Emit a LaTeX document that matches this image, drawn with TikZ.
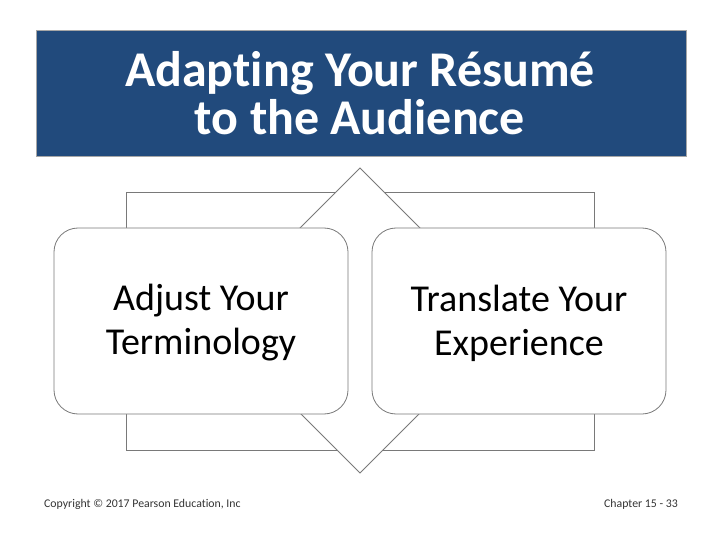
\documentclass[tikz,border=0pt]{standalone}
\usepackage{fontspec}
\setmainfont{Carlito}[Ligatures=NoCommon]
\begin{document}
\begin{tikzpicture}[x=1pt,y=-1pt,
  outl/.style={draw=gray!95!black, line width=0.8pt, fill=white},
  rbox/.style={outl, rounded corners=24pt},
  boxtext/.style={font=\fontsize{38}{44}\selectfont, align=center, text=black},
  foot/.style={font=\fontsize{11.8}{13}\selectfont, text=black!80, inner sep=0pt}]
\definecolor{titleblue}{HTML}{214A7C}
\useasboundingbox (0,0) rectangle (720,540);
% title
\node[draw=gray!70, line width=0.6pt, fill=titleblue, minimum width=650pt, minimum height=126pt,
  anchor=north west, inner sep=0pt] (title) at (36,30) {};
\node[font=\fontsize{50}{48}\selectfont\bfseries, text=white, align=center] (titletext) at (360,93)
  {Adapting Your Résumé\\to the Audience};
% background rectangle and diamond
\draw[outl] (126,192) rectangle (594,450);
\coordinate (dtop) at (360,168);
\coordinate (dbot) at (360,473);
\draw[outl] (dtop) -- (512.5,320.5) -- (dbot) -- (207.5,320.5) -- cycle;
% rounded boxes
\draw[rbox] (54,228) rectangle (348,414);
\draw[rbox] (372,228) rectangle (666,414);
\node[boxtext] (left) at (201,323) {Adjust Your\\Terminology};
\node[boxtext] (right) at (519,323) {Translate Your\\Experience};
% footer
\node[foot, anchor=base west] (copy) at (44,507) {Copyright © 2017 Pearson Education, Inc};
\node[foot, anchor=base east] (chap) at (678,507) {Chapter 15 - 33};
\end{tikzpicture}
\end{document}
